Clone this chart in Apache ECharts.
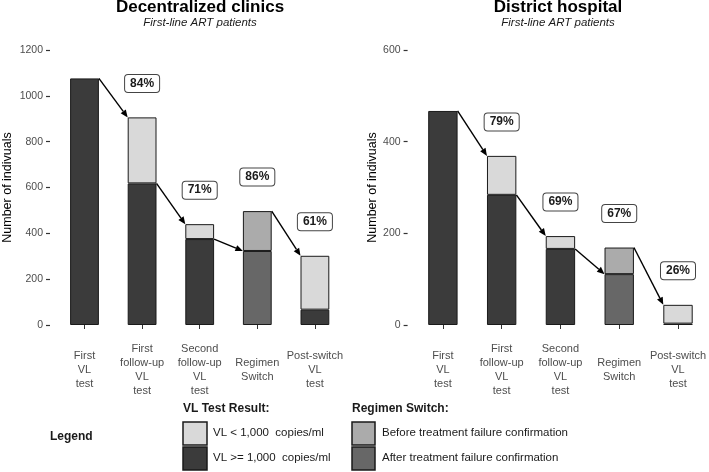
<!DOCTYPE html>
<html>
<head>
<meta charset="utf-8">
<script src="https://cdn.jsdelivr.net/npm/echarts@6/dist/echarts.min.js"></script>
<style>html,body{margin:0;padding:0;background:#fff;}#c{width:709px;height:472px;}</style>
</head>
<body>
<div id="c"></div>
<script>
// ---------- data ----------
const categories = ['First\nVL\ntest', 'First\nfollow-up\nVL\ntest', 'Second\nfollow-up\nVL\ntest', 'Regimen\nSwitch', 'Post-switch\nVL\ntest'];

// Decentralized clinics
const dcVlHigh     = [1076, 618, 375, null, 67];   // VL >= 1,000
const dcVlLow      = [null, 288, 65, null, 235];   // VL < 1,000
const dcAfterConf  = [null, null, null, 323, null];
const dcBeforeConf = [null, null, null, 174, null];
const dcPercent    = [84, 71, 86, 61];

// District hospital
const dhVlHigh     = [467, 284, 166, null, 3];
const dhVlLow      = [null, 85, 28, null, 41];
const dhAfterConf  = [null, null, null, 111, null];
const dhBeforeConf = [null, null, null, 58, null];
const dhPercent    = [79, 69, 67, 26];

const dcAxisMax = 1200, dhAxisMax = 600, axisStep = 200;

// ---------- colours / fonts ----------
const FONT = 'Liberation Sans, Arial, sans-serif';
const C_HIGH = '#3b3b3b', C_LOW = '#d9d9d9', C_BEFORE = '#ababab', C_AFTER = '#676767';

function totals(high, low, after, before) {
  return categories.map((_, i) => (high[i] || 0) + (low[i] || 0) + (after[i] || 0) + (before[i] || 0));
}
// arrow: from VL>=1000 part (or total of switch bar) to total of next bar (or "after" part of switch bar)
function arrowData(high, low, after, before, pct) {
  const tot = totals(high, low, after, before);
  const out = [];
  for (let i = 1; i < categories.length; i++) {
    const fromV = high[i - 1] != null ? high[i - 1] : tot[i - 1];
    const toV = after[i] != null ? after[i] : tot[i];
    out.push([i, fromV, toV, tot[i], pct[i - 1]]);
  }
  return out;
}

function renderArrow(params, api) {
  const i = api.value(0);
  const fromV = api.value(1), toV = api.value(2), topV = api.value(3), pct = api.value(4);
  const band = api.size([1, 0])[0];
  const bw = band * 0.5;
  const p0 = api.coord([i - 1, fromV]); p0[0] += bw / 2;
  const p1 = api.coord([i, toV]); p1[0] -= bw / 2;
  const ang = Math.atan2(p1[1] - p0[1], p1[0] - p0[0]);
  const L = 7.5, W = 3.2;
  const c = Math.cos(ang), s = Math.sin(ang);
  const bx = p1[0] - L * c, by = p1[1] - L * s;
  const pt = api.coord([i, topV]);
  return {
    type: 'group',
    children: [
      { type: 'line', shape: { x1: p0[0], y1: p0[1], x2: bx, y2: by }, style: { stroke: '#000', lineWidth: 1.4 } },
      { type: 'polygon', shape: { points: [[p1[0], p1[1]], [bx + W * s, by - W * c], [bx - W * s, by + W * c]] }, style: { fill: '#000' } },
      { type: 'text', x: pt[0], y: pt[1] - 34, style: {
          text: pct + '%', align: 'center', verticalAlign: 'middle',
          font: 'bold 12px ' + FONT, fill: '#1a1a1a',
          backgroundColor: '#fff', borderColor: '#444', borderWidth: 1, borderRadius: 3, padding: [3, 5, 2, 5]
        } }
    ]
  };
}

function barSeries(name, data, color, idx) {
  return {
    type: 'bar', name: name, data: data, stack: 's' + idx,
    xAxisIndex: idx, yAxisIndex: idx, barWidth: '50%',
    itemStyle: { color: color, borderColor: '#1a1a1a', borderWidth: 1 },
    emphasis: { disabled: true }, animation: false
  };
}

const xAxisBase = {
  type: 'category', data: categories, offset: 14,
  axisLine: { show: false },
  axisTick: { show: true, alignWithLabel: true, length: 4, lineStyle: { color: '#333', width: 1 } },
  axisLabel: { interval: 0, margin: 31, verticalAlign: 'middle', fontSize: 11, lineHeight: 14, color: '#4d4d4d', fontFamily: FONT },
  splitLine: { show: false }
};
function yAxisBase(max, gap, offset) {
  return {
    type: 'value', min: 0, max: max, interval: axisStep, offset: offset,
    name: 'Number of indivuals', nameLocation: 'middle', nameGap: gap,
    nameTextStyle: { fontSize: 12.5, color: '#000', fontFamily: FONT },
    axisLine: { show: false },
    axisTick: { show: true, length: 4, lineStyle: { color: '#333', width: 1.2 } },
    axisLabel: { margin: 7, fontSize: 10.5, color: '#4d4d4d', fontFamily: FONT, formatter: v => String(v) },
    splitLine: { show: false }
  };
}

const option = {
  backgroundColor: '#fff',
  animation: false,
  title: [
    { text: 'Decentralized clinics', subtext: 'First-line ART patients', left: 200, top: -1, textAlign: 'center', padding: 0, itemGap: 1,
      textStyle: { fontSize: 17, fontWeight: 'bold', color: '#000', fontFamily: FONT },
      subtextStyle: { fontSize: 11.5, fontStyle: 'italic', color: '#1a1a1a', fontFamily: FONT } },
    { text: 'District hospital', subtext: 'First-line ART patients', left: 558, top: -1, textAlign: 'center', padding: 0, itemGap: 1,
      textStyle: { fontSize: 17, fontWeight: 'bold', color: '#000', fontFamily: FONT },
      subtextStyle: { fontSize: 11.5, fontStyle: 'italic', color: '#1a1a1a', fontFamily: FONT } }
  ],
  grid: [
    { left: 55.7, width: 288, top: 50, height: 275 },
    { left: 413.5, width: 295, top: 50, height: 275 }
  ],
  xAxis: [
    Object.assign({ gridIndex: 0 }, xAxisBase),
    Object.assign({ gridIndex: 1 }, xAxisBase)
  ],
  yAxis: [
    Object.assign({ gridIndex: 0 }, yAxisBase(dcAxisMax, 36, 5.7)),
    Object.assign({ gridIndex: 1 }, yAxisBase(dhAxisMax, 28.5, 5.9))
  ],
  series: [
    barSeries('VL >= 1,000 copies/ml', dcVlHigh, C_HIGH, 0),
    barSeries('VL < 1,000 copies/ml', dcVlLow, C_LOW, 0),
    barSeries('After treatment failure confirmation', dcAfterConf, C_AFTER, 0),
    barSeries('Before treatment failure confirmation', dcBeforeConf, C_BEFORE, 0),
    barSeries('VL >= 1,000 copies/ml', dhVlHigh, C_HIGH, 1),
    barSeries('VL < 1,000 copies/ml', dhVlLow, C_LOW, 1),
    barSeries('After treatment failure confirmation', dhAfterConf, C_AFTER, 1),
    barSeries('Before treatment failure confirmation', dhBeforeConf, C_BEFORE, 1),
    { type: 'custom', xAxisIndex: 0, yAxisIndex: 0, renderItem: renderArrow, clip: false, z: 5,
      data: arrowData(dcVlHigh, dcVlLow, dcAfterConf, dcBeforeConf, dcPercent), encode: { x: 0, y: 1 }, silent: true },
    { type: 'custom', xAxisIndex: 1, yAxisIndex: 1, renderItem: renderArrow, clip: false, z: 5,
      data: arrowData(dhVlHigh, dhVlLow, dhAfterConf, dhBeforeConf, dhPercent), encode: { x: 0, y: 1 }, silent: true }
  ],
  graphic: [
    { type: 'text', left: 50, top: 431, style: { text: 'Legend', font: 'bold 12px ' + FONT, fill: '#1a1a1a' } },
    { type: 'text', left: 183, top: 403, style: { text: 'VL Test Result:', font: 'bold 12px ' + FONT, fill: '#1a1a1a' } },
    { type: 'rect', shape: { x: 183, y: 422, width: 24, height: 23 }, style: { fill: C_LOW, stroke: '#1a1a1a', lineWidth: 1.5 } },
    { type: 'rect', shape: { x: 183, y: 447, width: 24, height: 23 }, style: { fill: C_HIGH, stroke: '#1a1a1a', lineWidth: 1.5 } },
    { type: 'text', left: 213, top: 427, style: { text: 'VL < 1,000  copies/ml', font: '11.5px ' + FONT, fill: '#1a1a1a' } },
    { type: 'text', left: 213, top: 452, style: { text: 'VL >= 1,000  copies/ml', font: '11.5px ' + FONT, fill: '#1a1a1a' } },
    { type: 'text', left: 352, top: 403, style: { text: 'Regimen Switch:', font: 'bold 12px ' + FONT, fill: '#1a1a1a' } },
    { type: 'rect', shape: { x: 352, y: 422, width: 23, height: 23 }, style: { fill: C_BEFORE, stroke: '#1a1a1a', lineWidth: 1.5 } },
    { type: 'rect', shape: { x: 352, y: 447, width: 23, height: 23 }, style: { fill: C_AFTER, stroke: '#1a1a1a', lineWidth: 1.5 } },
    { type: 'text', left: 382, top: 427, style: { text: 'Before treatment failure confirmation', font: '11.5px ' + FONT, fill: '#1a1a1a' } },
    { type: 'text', left: 382, top: 452, style: { text: 'After treatment failure confirmation', font: '11.5px ' + FONT, fill: '#1a1a1a' } }
  ]
};

const chart = echarts.init(document.getElementById('c'), null, { renderer: 'canvas' });
chart.setOption(option);
</script>
</body>
</html>
